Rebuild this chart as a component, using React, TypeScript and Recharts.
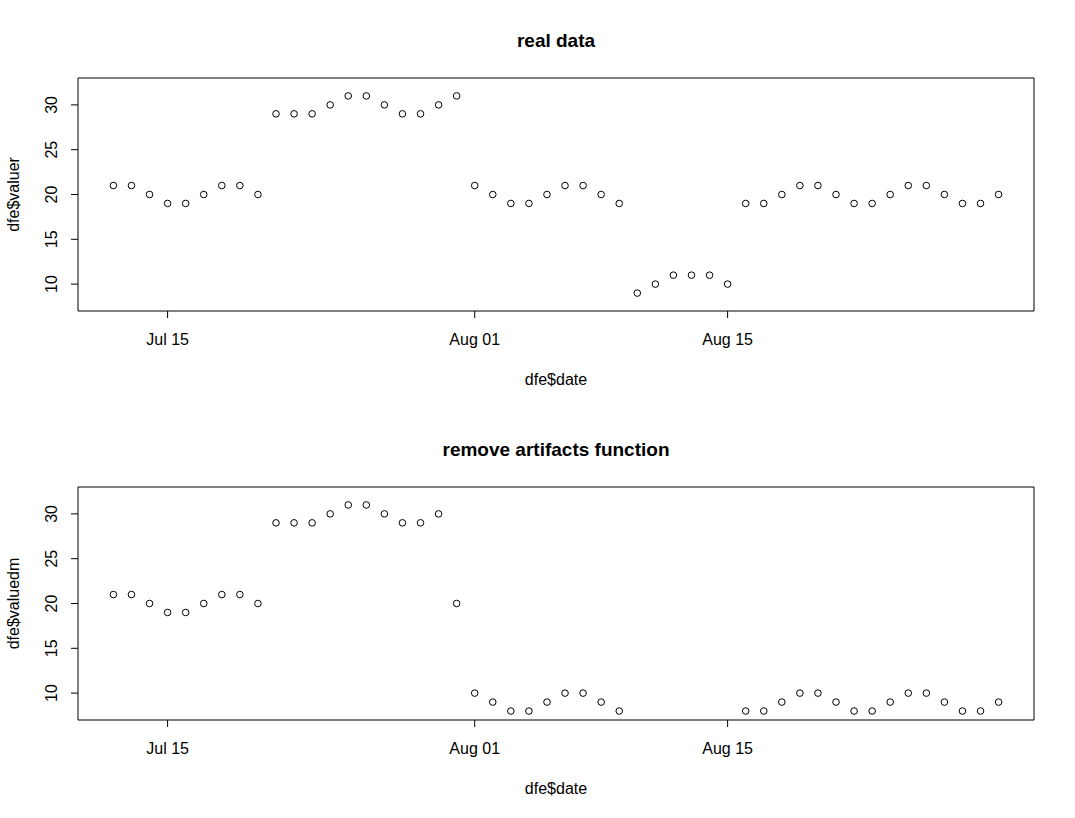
import React from 'react';
import { ScatterChart, Scatter, XAxis, YAxis, ReferenceArea } from 'recharts';

// ---- data ----
const dates = [
  '07-12', '07-13', '07-14', '07-15', '07-16', '07-17', '07-18', '07-19', '07-20',
  '07-21', '07-22', '07-23', '07-24', '07-25', '07-26', '07-27', '07-28', '07-29', '07-30', '07-31',
  '08-01', '08-02', '08-03', '08-04', '08-05', '08-06', '08-07', '08-08', '08-09',
  '08-10', '08-11', '08-12', '08-13', '08-14', '08-15',
  '08-16', '08-17', '08-18', '08-19', '08-20', '08-21', '08-22', '08-23', '08-24', '08-25',
  '08-26', '08-27', '08-28', '08-29', '08-30',
];

const valuer: (number | null)[] = [
  21, 21, 20, 19, 19, 20, 21, 21, 20,
  29, 29, 29, 30, 31, 31, 30, 29, 29, 30, 31,
  21, 20, 19, 19, 20, 21, 21, 20, 19,
  9, 10, 11, 11, 11, 10,
  19, 19, 20, 21, 21, 20, 19, 19, 20, 21,
  21, 20, 19, 19, 20,
];

const valuedm: (number | null)[] = [
  21, 21, 20, 19, 19, 20, 21, 21, 20,
  29, 29, 29, 30, 31, 31, 30, 29, 29, 30, 20,
  10, 9, 8, 8, 9, 10, 10, 9, 8,
  null, null, null, null, null, null,
  8, 8, 9, 10, 10, 9, 8, 8, 9, 10,
  10, 9, 8, 8, 9,
];

const xTickDates = ['07-15', '08-01', '08-15'];
const xTickLabels = ['Jul 15', 'Aug 01', 'Aug 15'];
const yTicks = [10, 15, 20, 25, 30];
const yDomain: [number, number] = [7, 33];

// ---- helpers ----
const FONT = '"Liberation Sans", Arial, Helvetica, sans-serif';
const toDay = (s: string) => {
  const [m, d] = s.split('-').map(Number);
  return Date.UTC(2000, m - 1, d) / 86400000;
};
const dayNums = dates.map(toDay);
const span = dayNums[dayNums.length - 1] - dayNums[0];
const xDomain: [number, number] = [dayNums[0] - 0.04 * span, dayNums[dayNums.length - 1] + 0.04 * span];
const xTicks = xTickDates.map(toDay);
const xLabelFor = (v: number) => {
  const i = xTicks.indexOf(v);
  return i >= 0 ? xTickLabels[i] : '';
};

const YTick = (props: any) => {
  const { x, y, payload } = props;
  return (
    <text
      x={x}
      y={y}
      transform={`rotate(-90 ${x} ${y})`}
      textAnchor="middle"
      fontSize={16}
      fontFamily={FONT}
      fill="#000"
    >
      {payload.value}
    </text>
  );
};

const Circle = (props: any) => {
  const { cx, cy } = props;
  if (cx == null || cy == null) return null;
  return <circle cx={cx} cy={cy} r={3.3} fill="none" stroke="#000" strokeWidth={1} />;
};

const W = 1075;
const H = 409;

function Panel({ title, ylabel, values }: { title: string; ylabel: string; values: (number | null)[] }) {
  const data = dates
    .map((d, i) => ({ x: dayNums[i], y: values[i] }))
    .filter((p) => p.y !== null && p.y !== undefined);
  return (
    <div style={{ position: 'relative', width: W, height: H }}>
      <ScatterChart width={W} height={H} margin={{ top: 78, right: 41, bottom: 68, left: 0 }}>
        <XAxis
          type="number"
          dataKey="x"
          domain={xDomain}
          ticks={xTicks}
          tickFormatter={xLabelFor}
          allowDataOverflow
          axisLine={false}
          tickLine={{ stroke: '#000' }}
          tickSize={7}
          tickMargin={16}
          height={30}
          tick={{ fill: '#000', fontSize: 16, fontFamily: FONT }}
          interval={0}
        />
        <YAxis
          type="number"
          dataKey="y"
          domain={yDomain}
          ticks={yTicks}
          allowDataOverflow
          axisLine={false}
          tickLine={{ stroke: '#000' }}
          tickSize={7}
          tickMargin={14}
          width={78}
          tick={<YTick />}
          interval={0}
        />
        <ReferenceArea
          x1={xDomain[0]}
          x2={xDomain[1]}
          y1={yDomain[0]}
          y2={yDomain[1]}
          fill="none"
          fillOpacity={0}
          stroke="#000"
          strokeWidth={1}
          strokeOpacity={1}
        />
        <Scatter data={data} shape={<Circle />} isAnimationActive={false} />
      </ScatterChart>
      <svg
        width={W}
        height={H}
        style={{ position: 'absolute', left: 0, top: 0, pointerEvents: 'none' }}
      >
        <text x={556} y={47} textAnchor="middle" fontSize={19} fontWeight="bold" fontFamily={FONT} fill="#000">
          {title}
        </text>
        <text x={556} y={385} textAnchor="middle" fontSize={16} fontFamily={FONT} fill="#000">
          dfe$date
        </text>
        <text
          x={19}
          y={194.5}
          transform="rotate(-90 19 194.5)"
          textAnchor="middle"
          fontSize={16}
          fontFamily={FONT}
          fill="#000"
        >
          {ylabel}
        </text>
      </svg>
    </div>
  );
}

export default function App() {
  return (
    <div style={{ position: 'absolute', left: 0, top: 0, width: 1075, height: 818, background: '#fff' }}>
      <Panel title="real data" ylabel="dfe$valuer" values={valuer} />
      <Panel title="remove artifacts function" ylabel="dfe$valuedm" values={valuedm} />
    </div>
  );
}
